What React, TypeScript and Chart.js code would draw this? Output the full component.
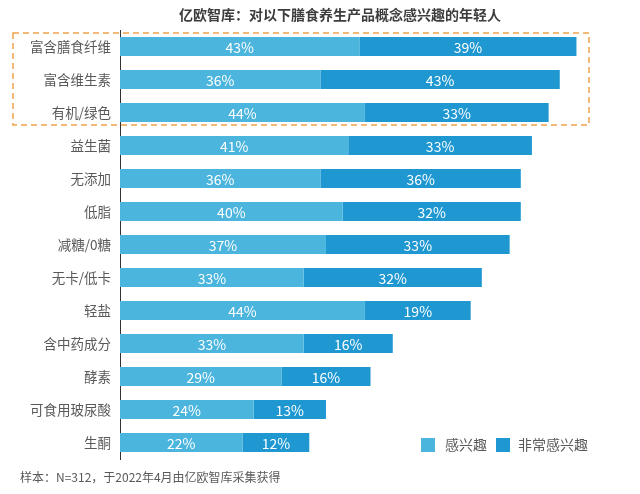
import React, { useEffect, useRef } from "react";
import { Chart, registerables } from "chart.js";

Chart.register(...registerables);

const title = "亿欧智库：对以下膳食养生产品概念感兴趣的年轻人";
const footnote = "样本：N=312，于2022年4月由亿欧智库采集获得";
const categories = [
  "富含膳食纤维",
  "富含维生素",
  "有机/绿色",
  "益生菌",
  "无添加",
  "低脂",
  "减糖/0糖",
  "无卡/低卡",
  "轻盐",
  "含中药成分",
  "酵素",
  "可食用玻尿酸",
  "生酮",
];
const seriesNames = ["感兴趣", "非常感兴趣"];
const interested = [43, 36, 44, 41, 36, 40, 37, 33, 44, 33, 29, 24, 22];
const veryInterested = [39, 43, 33, 33, 36, 32, 33, 32, 19, 16, 16, 13, 12];

const COLORS = ["#4BB5DD", "#1F98D2"];
const FONT = '"Noto Sans CJK SC", "Noto Sans", sans-serif';

const labelPlugin = {
  id: "barLabels",
  afterDatasetsDraw(chart: any) {
    const ctx = chart.ctx;
    ctx.save();
    ctx.fillStyle = "#ffffff";
    ctx.font = `14px ${FONT}`;
    ctx.textAlign = "center";
    ctx.textBaseline = "middle";
    chart.data.datasets.forEach((ds: any, di: number) => {
      const meta = chart.getDatasetMeta(di);
      meta.data.forEach((el: any, i: number) => {
        const cx = (el.x + el.base) / 2;
        ctx.fillText(ds.data[i] + "%", cx, el.y + 1);
      });
    });
    ctx.restore();
  },
};

const decorPlugin = {
  id: "decor",
  afterDraw(chart: any) {
    const ctx = chart.ctx;
    ctx.save();
    // title
    ctx.fillStyle = "#3d3d3d";
    ctx.font = `bold 14px ${FONT}`;
    ctx.textAlign = "center";
    ctx.textBaseline = "middle";
    ctx.fillText(title, 340, 15);
    // footnote
    ctx.fillStyle = "#595959";
    ctx.font = `12px ${FONT}`;
    ctx.textAlign = "left";
    ctx.fillText(footnote, 20, 477);
    // dashed highlight box
    ctx.strokeStyle = "#F0A24A";
    ctx.lineWidth = 1.5;
    ctx.setLineDash([6, 4]);
    ctx.strokeRect(13, 33, 576, 92);
    ctx.setLineDash([]);
    // legend
    const items = [
      { sx: 421, tx: 445 },
      { sx: 496, tx: 518 },
    ];
    ctx.font = `14px ${FONT}`;
    items.forEach((it, i) => {
      ctx.fillStyle = COLORS[i];
      ctx.fillRect(it.sx, 438, 14, 14);
      ctx.fillStyle = "#595959";
      ctx.fillText(chart.data.datasets[i].label, it.tx, 445);
    });
    ctx.restore();
  },
};

export default function App() {
  const ref = useRef<HTMLCanvasElement | null>(null);
  useEffect(() => {
    if (!ref.current) return;
    const chart = new Chart(ref.current, {
      type: "bar",
      data: {
        labels: categories,
        datasets: [
          {
            label: seriesNames[0],
            data: interested,
            backgroundColor: COLORS[0],
            categoryPercentage: 1,
            barPercentage: 0.58,
          },
          {
            label: seriesNames[1],
            data: veryInterested,
            backgroundColor: COLORS[1],
            categoryPercentage: 1,
            barPercentage: 0.58,
          },
        ],
      },
      options: {
        indexAxis: "y",
        animation: false,
        responsive: false,
        devicePixelRatio: 1,
        layout: { padding: { top: 30, bottom: 35, right: 19, left: 0 } },
        plugins: {
          legend: { display: false },
          title: { display: false },
          tooltip: { enabled: false },
        },
        scales: {
          x: {
            stacked: true,
            min: 0,
            max: 90,
            display: false,
          },
          y: {
            stacked: true,
            grid: { display: false },
            border: { display: true, color: "#333333", width: 1 },
            ticks: {
              color: "#595959",
              font: { family: FONT, size: 13.5 },
              padding: 1,
            },
            afterFit(scale: any) {
              scale.width = 120;
            },
          },
        },
      },
      plugins: [labelPlugin, decorPlugin],
    });
    return () => chart.destroy();
  }, []);
  return (
    <div style={{ position: "absolute", left: 0, top: 0, width: 640, height: 494, background: "#fff" }}>
      <canvas ref={ref} width={640} height={494} style={{ width: 640, height: 494 }} />
    </div>
  );
}
